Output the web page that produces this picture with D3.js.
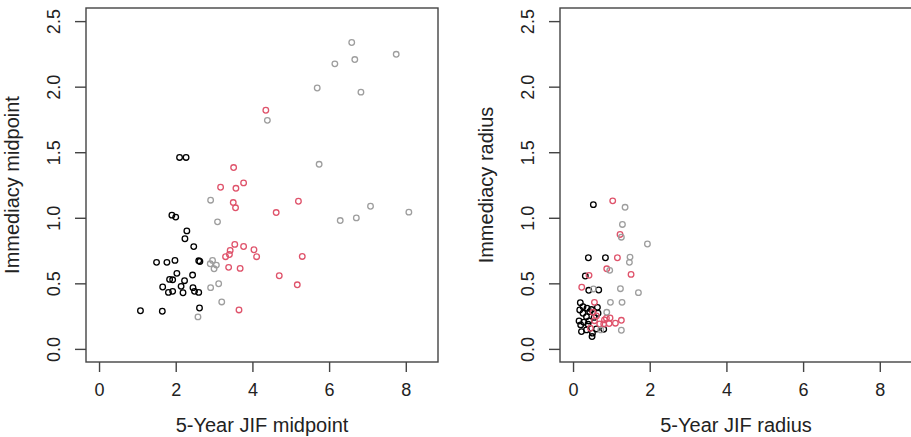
<!DOCTYPE html>
<html>
<head>
<meta charset="utf-8">
<script src="https://cdn.jsdelivr.net/npm/d3@7"></script>
<style>
  html, body { margin: 0; padding: 0; background: #fff; }
  svg { display: block; font-family: "Liberation Sans", Arial, Helvetica, sans-serif; }
</style>
</head>
<body>
<svg id="chart" width="911" height="437"></svg>
<script>
// ---- Data ----
const xTicks = [0, 2, 4, 6, 8];
const yTicks = [0, 0.5, 1, 1.5, 2, 2.5];
const xLim = [0, 8.5];
const yLim = [0, 2.5];

const panelTitles = [
  { x: "5-Year JIF midpoint", y: "Immediacy midpoint" },
  { x: "5-Year JIF radius", y: "Immediacy radius" }
];

const groupColors = { black: "#000000", red: "#DF536B", gray: "#9E9E9E" };

// Panel 1: midpoints [x, y]
const midBlack = [
  [2.10, 1.46], [2.27, 1.46], [1.90, 1.02], [2.00, 1.005], [2.29, 0.90], [2.24, 0.84],
  [2.47, 0.78], [1.50, 0.66], [1.77, 0.66], [1.98, 0.675], [2.60, 0.672], [2.63, 0.667],
  [2.03, 0.576], [2.44, 0.563], [1.84, 0.53], [1.92, 0.527], [2.23, 0.52], [1.66, 0.472],
  [2.14, 0.477], [2.45, 0.467], [1.81, 0.431], [1.92, 0.439], [2.19, 0.428], [2.49, 0.439],
  [2.60, 0.431], [1.08, 0.291], [1.65, 0.287], [2.62, 0.312]
];
const midRed = [
  [4.35, 1.82], [3.51, 1.383], [3.17, 1.233], [3.57, 1.225], [3.77, 1.266], [3.50, 1.116],
  [3.56, 1.076], [5.20, 1.126], [4.62, 1.04], [3.54, 0.797], [3.77, 0.781], [3.42, 0.751],
  [3.40, 0.72], [3.30, 0.703], [4.04, 0.756], [4.11, 0.703], [5.30, 0.705], [3.38, 0.622],
  [3.68, 0.614], [4.70, 0.558], [5.17, 0.489], [3.65, 0.297]
];
const midGray = [
  [6.59, 2.337], [7.75, 2.247], [6.15, 2.174], [6.67, 2.207], [5.69, 1.99], [6.83, 1.958],
  [4.39, 1.743], [5.74, 1.408], [2.91, 1.134], [3.09, 0.969], [6.29, 0.979], [6.71, 0.999],
  [7.08, 1.088], [8.08, 1.043], [2.96, 0.675], [2.90, 0.649], [3.06, 0.639], [3.00, 0.611],
  [3.12, 0.497], [2.91, 0.467], [3.20, 0.358], [2.58, 0.244]
];

// Panel 2: radii [x, y]
const radBlack = [
  [0.53, 1.10], [0.40, 0.695], [0.845, 0.695], [0.32, 0.556], [0.41, 0.447], [0.67, 0.449],
  [0.19, 0.352], [0.26, 0.322], [0.175, 0.297], [0.365, 0.31], [0.636, 0.317], [0.26, 0.272],
  [0.435, 0.284], [0.652, 0.272], [0.35, 0.246], [0.157, 0.213], [0.28, 0.203], [0.417, 0.213],
  [0.20, 0.183], [0.39, 0.188], [0.61, 0.152], [0.80, 0.15], [0.22, 0.132], [0.35, 0.145],
  [0.506, 0.12], [0.496, 0.094], [0.48, 0.30], [0.55, 0.24]
];
const radRed = [
  [1.035, 1.129], [1.226, 0.873], [1.157, 0.695], [0.879, 0.611], [1.513, 0.568], [0.417, 0.561],
  [0.227, 0.47], [0.558, 0.355], [0.52, 0.279], [0.61, 0.251], [0.87, 0.234], [0.965, 0.236],
  [0.82, 0.221], [0.558, 0.215], [0.696, 0.19], [0.80, 0.19], [0.94, 0.193], [1.105, 0.196],
  [1.26, 0.218], [0.453, 0.157]
];
const radGray = [
  [1.357, 1.08], [1.288, 0.949], [1.26, 0.852], [1.94, 0.80], [1.486, 0.70], [1.47, 0.66],
  [0.957, 0.599], [0.532, 0.457], [1.236, 0.459], [1.705, 0.429], [0.975, 0.355], [1.278, 0.355],
  [0.879, 0.279], [0.722, 0.145], [1.26, 0.142]
];

const panelData = [
  { black: midBlack, red: midRed, gray: midGray },
  { black: radBlack, red: radRed, gray: radGray }
];

// ---- Layout ----
const svg = d3.select("#chart");
svg.append("rect").attr("width", 911).attr("height", 437).attr("fill", "#fff");

const panelLeft = [86, 560];
const boxW = 352, boxTop = 8, boxBottom = 362;
const extend = (lim) => { const d = (lim[1] - lim[0]) * 0.04; return [lim[0] - d, lim[1] + d]; };

panelLeft.forEach((left, i) => {
  const x = d3.scaleLinear().domain(extend(xLim)).range([left, left + boxW]);
  const y = d3.scaleLinear().domain(extend(yLim)).range([boxBottom, boxTop]);
  const g = svg.append("g");

  // points
  ["black", "red", "gray"].forEach(key => {
    g.append("g").selectAll("circle")
      .data(panelData[i][key])
      .join("circle")
      .attr("cx", d => x(d[0]))
      .attr("cy", d => y(d[1]))
      .attr("r", 2.8)
      .attr("fill", "none")
      .attr("stroke", groupColors[key])
      .attr("stroke-width", 1.3);
  });

  // box
  g.append("rect")
    .attr("x", left).attr("y", boxTop)
    .attr("width", boxW).attr("height", boxBottom - boxTop)
    .attr("fill", "none").attr("stroke", "#444").attr("stroke-width", 1.4);

  // x axis
  const xa = g.append("g").attr("transform", `translate(0,${boxBottom})`)
    .call(d3.axisBottom(x).tickValues(xTicks).tickSize(10).tickFormat(d3.format("d")));
  xa.select(".domain").remove();
  xa.selectAll(".tick line").attr("stroke", "#444").attr("stroke-width", 1.4);
  xa.selectAll(".tick text")
    .attr("y", 34).attr("dy", 0)
    .attr("fill", "#222")
    .style("font-size", "18px")
    .style("font-family", "Liberation Sans, Arial, sans-serif");

  // y axis
  const ya = g.append("g").attr("transform", `translate(${left},0)`)
    .call(d3.axisLeft(y).tickValues(yTicks).tickSize(11).tickFormat(d3.format(".1f")));
  ya.select(".domain").remove();
  ya.selectAll(".tick line").attr("stroke", "#444").attr("stroke-width", 1.4);
  ya.selectAll(".tick text")
    .attr("x", 0).attr("dy", 0)
    .attr("transform", "translate(-26,0) rotate(-90)")
    .attr("text-anchor", "middle")
    .attr("fill", "#222")
    .style("font-size", "18px")
    .style("font-family", "Liberation Sans, Arial, sans-serif");

  // titles
  g.append("text")
    .attr("x", left + boxW / 2).attr("y", 432)
    .attr("text-anchor", "middle")
    .attr("fill", "#222")
    .style("font-size", "20px")
    .text(panelTitles[i].x);
  g.append("text")
    .attr("transform", `translate(${left - 67},${(boxTop + boxBottom) / 2}) rotate(-90)`)
    .attr("text-anchor", "middle")
    .attr("fill", "#222")
    .style("font-size", "20px")
    .text(panelTitles[i].y);
});
</script>
</body>
</html>
